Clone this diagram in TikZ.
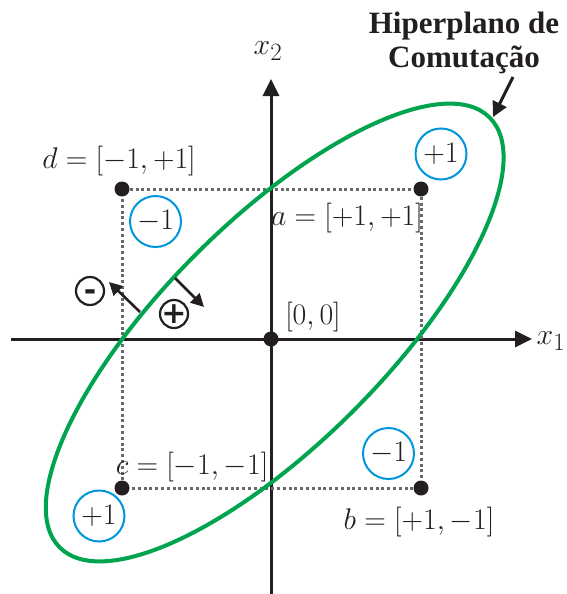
\documentclass[tikz,border=0pt]{standalone}
\usepackage{graphicx}
\usepackage[no-math]{fontspec}
\setmainfont{Liberation Serif}
\newfontfamily\symfont{DejaVu Sans}
\usetikzlibrary{arrows.meta}
\definecolor{ink}{RGB}{35,31,32}
\definecolor{hgreen}{RGB}{0,163,78}
\definecolor{cblue}{RGB}{0,150,219}
\definecolor{dgray}{RGB}{105,105,105}
\newcommand\mlab[1]{\scalebox{1.2}{$#1$}}
\begin{document}
\begin{tikzpicture}[x=1pt,y=-1pt,
  lbl/.style={font=\fontsize{24.88}{27}\selectfont, inner sep=0pt, text=ink},
  valc/.style={circle, draw=cblue, line width=2pt, minimum size=51pt, inner sep=0pt, font=\fontsize{24.88}{27}\selectfont, text=ink},
  dotn/.style={circle, fill=ink, minimum size=15pt, inner sep=0pt},
  axis/.style={line width=3pt, draw=ink, -{Triangle[length=17pt,width=16pt]}},
  gridline/.style={draw=dgray, line width=3pt, dash pattern=on 3pt off 2.8pt},
  sgn/.style={circle, draw=ink, line width=2.2pt, minimum size=28pt, inner sep=0pt},
  sgntxt/.style={font=\symfont\bfseries\fontsize{30}{32}\selectfont, text=ink, inner sep=0pt},
  narrow/.style={line width=2.6pt, draw=ink, -{Triangle[length=13pt,width=13pt]}},
  harrow/.style={line width=3pt, draw=ink, -{Triangle[length=15pt,width=15pt]}},
  hyper/.style={hgreen, line width=4pt}
]
\useasboundingbox (0,0) rectangle (566,594);

% axes
\coordinate (xl) at (11,339);
\coordinate (xr) at (532,339);
\coordinate (yb) at (271,600);
\coordinate (yt) at (271,79);
\draw[axis] (xl) -- (xr);
\draw[axis] (yb) -- (yt);

% corner points
\node[dotn] (d) at (122,189) {};
\node[dotn] (a) at (421,189) {};
\node[dotn] (c) at (122,488) {};
\node[dotn] (b) at (421,488) {};
\node[dotn] (o) at (271,339) {};

\draw[gridline] (d) -- (a);
\draw[gridline] (a) -- (b);
\draw[gridline] (b) -- (c);
\draw[gridline] (c) -- (d);

% switching hyperplane
\draw[hyper, shift={(274.7,332.5)}, rotate=45] (0,0) ellipse [x radius=304, y radius=111];

% labels
\node[lbl] (x2l) at (268,51) {\mlab{x_2}};
\node[lbl, anchor=east] (x1l) at (565.5,341) {\mlab{x_1}};
\node[lbl] (dl) at (119,161) {\mlab{d=[-1,+1]}};
\node[lbl] (al) at (347,218) {\mlab{a=[+1,+1]}};
\node[lbl] (ol) at (313,317) {\mlab{[0,0]}};
\node[lbl] (cl) at (192,467) {\mlab{c=[-1,-1]}};
\node[lbl] (bl) at (419,522) {\mlab{b=[+1,-1]}};

% class circles
\node[valc] (v1) at (441,154) {\mlab{+1}};
\node[valc] (v2) at (155.5,221.5) {\mlab{-1}};
\node[valc] (v3) at (388.5,453.5) {\mlab{-1}};
\node[valc] (v4) at (99,516) {\mlab{+1}};

% sides
\coordinate (m0) at (140,312);
\coordinate (m1) at (109,282);
\coordinate (p0) at (175,278);
\coordinate (p1) at (204,307);
\draw[narrow] (m0) -- (m1);
\draw[narrow] (p0) -- (p1);
\node[sgn] (sm) at (90,291) {};
\node[sgntxt] at (sm.center) {\vphantom{+}-};
\node[sgn] (sp) at (174,314) {};
\node[sgntxt] at (sp.center) {+};

% title
\node[font=\bfseries\fontsize{31}{34}\selectfont, align=center, text=ink, inner sep=0pt] (title) at (464,43) {Hiperplano de\\Comutação};
\coordinate (h0) at (513,77);
\coordinate (h1) at (493,117);
\draw[harrow] (h0) -- (h1);
\end{tikzpicture}
\end{document}
